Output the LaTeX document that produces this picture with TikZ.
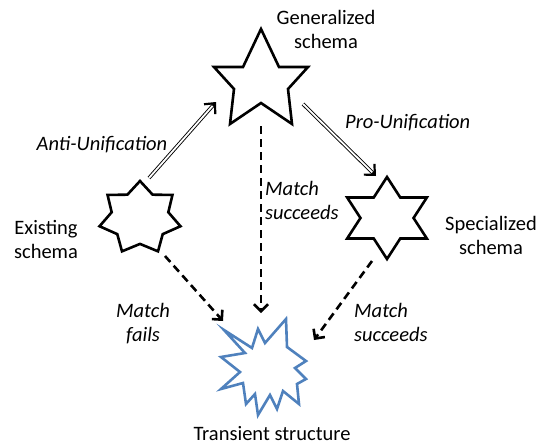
\documentclass[tikz,border=0pt]{standalone}
\usepackage{fontspec}
\setmainfont{Carlito}
\usetikzlibrary{arrows.meta,calc}
\definecolor{burstblue}{RGB}{79,129,189}
\tikzset{
  shape line/.style={line width=2.6pt, line join=miter},
  label text/.style={font=\fontsize{20.5}{24}\selectfont, align=center, inner sep=0pt},
  arrow label/.style={font=\fontsize{20.5}{24}\selectfont\itshape, inner sep=0pt},
  unify/.style={line width=0.9pt, double, double distance=1.8pt},
  unify tip/.style={line width=2.2pt, -{Straight Barb[length=8pt,width=15pt]}},
  match/.style={line width=2.6pt, dash pattern=on 8pt off 5pt, -{Straight Barb[length=7pt,width=14pt]}},
}
\begin{document}
\begin{tikzpicture}[x=1pt, y=-1pt]
\useasboundingbox (0,0) rectangle (540,445);

% generalized schema: five-pointed star
\draw[shape line] (261,29) -- (279,67) -- (308,67) -- (288,89) -- (292,124)
  -- (261,103) -- (230,124) -- (234,89) -- (214,67) -- (243,67) -- cycle;
\coordinate (gen) at (261,78);

% existing schema: seven-pointed star
\begin{scope}[shift={(140,218)}, xscale=41.5, yscale=-37]
  \draw[shape line] (90:1) \foreach \k in {1,...,13} {-- ({90+\k*180/7}:{1-0.3*mod(\k,2)})} -- cycle;
\end{scope}
\coordinate (exist) at (140,218);

% specialized schema: six-pointed star
\begin{scope}[shift={(387,218)}, xscale=46, yscale=-41]
  \draw[shape line] (90:1) \foreach \k in {1,...,11} {-- ({90+\k*30}:{1-0.423*mod(\k,2)})} -- cycle;
\end{scope}
\coordinate (spec) at (387,218);

% transient structure: irregular burst
\draw[shape line, draw=burstblue] (224,330) -- (252,348) -- (258,329) -- (265,343)
  -- (286,319) -- (287,347) -- (306,361) -- (295,368) -- (306,379) -- (297,384)
  -- (299,404) -- (283,391) -- (277,409) -- (270,395) -- (258,415) -- (255,394)
  -- (246,404) -- (243,383) -- (221,389) -- (240,372) -- (221,357) -- (245,353) -- cycle;
\coordinate (trans) at (262,370);

% connector ends
\coordinate (anti-from) at (149,178);
\coordinate (anti-to) at (216,102);
\coordinate (pro-from) at (303,104);
\coordinate (pro-to) at (376,176);
\coordinate (mid-from) at (261,126);
\coordinate (mid-to) at (261,313);
\coordinate (fail-from) at (165,256);
\coordinate (fail-to) at (223,321);
\coordinate (succ-from) at (372,261);
\coordinate (succ-to) at (314,340);

% unification arrows (double shaft, solid barb)
\draw[unify] (anti-from) -- ($(anti-to)!3pt!(anti-from)$);
\draw[unify tip] ($(anti-to)!5pt!(anti-from)$) -- (anti-to);
\draw[unify] (pro-from) -- ($(pro-to)!3pt!(pro-from)$);
\draw[unify tip] ($(pro-to)!5pt!(pro-from)$) -- (pro-to);

% matching arrows
\draw[match] (mid-from) -- (mid-to);
\draw[match] (fail-from) -- (fail-to);
\draw[match] (succ-from) -- (succ-to);

% labels
\node[label text] (gen-label) at (326,29) {Generalized\\schema};
\node[label text] (exist-label) at (46,239) {Existing\\schema};
\node[label text] (spec-label) at (491,235) {Specialized\\schema};
\node[label text, anchor=base] (trans-label) at (272,440) {Transient structure};
\node[arrow label, anchor=base] (anti-label) at (102,150) {Anti-Unification};
\node[arrow label, anchor=base west] (pro-label) at (345,128) {Pro-Unification};
\node[arrow label, align=left, anchor=north west] (mid-label) at (265,181) {Match\\succeeds};
\node[arrow label, align=center, anchor=north] (fail-label) at (143,303) {Match\\fails};
\node[arrow label, align=left, anchor=north west] (succ-label) at (354,303) {Match\\succeeds};
\end{tikzpicture}
\end{document}
